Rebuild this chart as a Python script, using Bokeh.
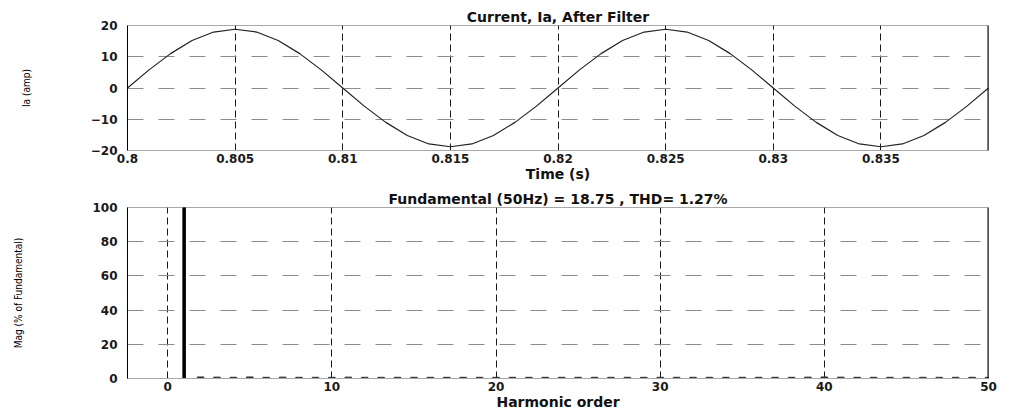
from bokeh.plotting import figure
from bokeh.layouts import column
from bokeh.models import FixedTicker, Span, Range1d
from bokeh.embed import file_html
from bokeh.resources import INLINE

# ---------------- data ----------------
time_s = [0.800, 0.801, 0.802, 0.803, 0.804, 0.805, 0.806, 0.807, 0.808, 0.809,
          0.810, 0.811, 0.812, 0.813, 0.814, 0.815, 0.816, 0.817, 0.818, 0.819,
          0.820, 0.821, 0.822, 0.823, 0.824, 0.825, 0.826, 0.827, 0.828, 0.829,
          0.830, 0.831, 0.832, 0.833, 0.834, 0.835, 0.836, 0.837, 0.838, 0.839,
          0.840]
ia_amp = [0.0, 5.8, 11.0, 15.2, 17.9, 18.8, 17.9, 15.2, 11.0, 5.8,
          0.0, -5.8, -11.0, -15.2, -17.9, -18.8, -17.9, -15.2, -11.0, -5.8,
          0.0, 5.8, 11.0, 15.2, 17.9, 18.8, 17.9, 15.2, 11.0, 5.8,
          0.0, -5.8, -11.0, -15.2, -17.9, -18.8, -17.9, -15.2, -11.0, -5.8,
          0.0]

time_ticks = [0.8, 0.805, 0.81, 0.815, 0.82, 0.825, 0.83, 0.835]
time_tick_labels = ["0.8", "0.805", "0.81", "0.815", "0.82", "0.825", "0.83", "0.835"]

fund_order = [1]
fund_mag = [100.0]
harm_order = [2, 3, 4, 5, 6, 7, 8, 9, 10, 11, 12, 13, 14, 15, 16, 17, 18, 19, 20,
              21, 22, 23, 24, 25, 26, 27, 28, 29, 30, 31, 32, 33, 34, 35, 36, 37,
              38, 39, 40, 41, 42, 43, 44, 45, 46, 47, 48, 49, 50]
harm_mag = [0.9, 0.8, 0.7, 0.9, 0.7, 0.8, 0.7, 0.7, 0.7, 0.8, 0.7, 0.7, 0.7, 0.7,
            0.7, 0.7, 0.7, 0.7, 0.7, 0.7, 0.7, 0.7, 0.7, 0.7, 0.7, 0.7, 0.7, 0.7,
            0.7, 0.7, 0.7, 0.7, 0.7, 0.7, 0.7, 0.7, 0.7, 0.8, 0.9, 0.8, 0.7, 0.7,
            0.7, 0.7, 0.7, 0.7, 0.7, 0.7, 0.7]

top_title = "Current, Ia, After Filter"
bottom_title = "Fundamental (50Hz) = 18.75 , THD= 1.27%"

FONT = "DejaVu Sans"
AX_FONT = "DejaVu Sans Condensed"


def style(p, xlabel, ylabel, ystandoff):
    p.toolbar.logo = None
    p.outline_line_color = "#a8a8a8"
    p.background_fill_color = "white"
    p.border_fill_color = "white"
    p.title.align = "center"
    p.title.text_font = FONT
    p.title.text_font_size = "14px"
    p.title.text_font_style = "bold"
    p.title.text_color = "#111111"
    p.title.standoff = 1
    p.title.offset = 0
    for ax in (p.xaxis[0], p.yaxis[0]):
        ax.major_tick_in = 0
        ax.major_tick_out = 0
        ax.minor_tick_in = 0
        ax.minor_tick_out = 0
        ax.major_label_text_font = FONT
        ax.major_label_text_font_style = "bold"
        ax.major_label_text_font_size = "12px"
        ax.major_label_text_color = "#1a1a1a"
    p.xaxis.axis_line_color = "#a8a8a8"
    p.yaxis.axis_line_color = "black"
    p.xaxis.axis_label = xlabel
    p.xaxis.axis_label_text_font = FONT
    p.xaxis.axis_label_text_font_style = "bold"
    p.xaxis.axis_label_text_font_size = "14px"
    p.xaxis.axis_label_text_color = "#111111"
    p.xaxis.axis_label_standoff = 0
    p.xaxis.major_label_standoff = 3
    p.yaxis.axis_label = ylabel
    p.yaxis.axis_label_text_font = AX_FONT
    p.yaxis.axis_label_text_font_style = "normal"
    p.yaxis.axis_label_text_font_size = "10px"
    p.yaxis.axis_label_text_color = "black"
    p.yaxis.axis_label_standoff = ystandoff
    p.yaxis.major_label_standoff = 10
    p.xgrid.grid_line_color = "black"
    p.xgrid.grid_line_dash = "7 4"
    p.xgrid.grid_line_alpha = 0.9
    p.ygrid.grid_line_color = "#8c8c8c"
    p.ygrid.grid_line_dash = "16 15"


# ---------------- top plot ----------------
p1 = figure(width=1009, height=187, output_backend="svg", toolbar_location=None,
            x_range=Range1d(0.8, 0.84), y_range=Range1d(-20, 20),
            title=top_title,
            min_border_left=127, min_border_right=21, min_border_top=25,
            min_border_bottom=37)
p1.line(time_s, ia_amp, line_color="#222222", line_width=1.2)
style(p1, "Time (s)", "Ia (amp)", 56)
p1.xaxis.ticker = FixedTicker(ticks=time_ticks)
p1.xaxis.major_label_overrides = {t: l for t, l in zip(time_ticks, time_tick_labels)}
p1.yaxis.ticker = FixedTicker(ticks=[-20, -10, 0, 10, 20])
p1.xgrid.ticker = FixedTicker(ticks=time_ticks[1:])
p1.ygrid.ticker = FixedTicker(ticks=[-10, 0, 10])
p1.add_layout(Span(location=0.84, dimension="height", line_color="black", line_width=2))

# ---------------- bottom plot ----------------
p2 = figure(width=1009, height=225, output_backend="svg", toolbar_location=None,
            x_range=Range1d(-2.45, 50), y_range=Range1d(0, 100),
            title=bottom_title,
            min_border_left=127, min_border_right=12, min_border_top=20,
            min_border_bottom=33)
p2.vbar(x=harm_order, top=harm_mag, width=0.4, color="#333333")
p2.vbar(x=fund_order, top=fund_mag, width=0.15, color="black")
style(p2, "Harmonic order", "Mag (% of Fundamental)", 65)
p2.xaxis.ticker = FixedTicker(ticks=[0, 10, 20, 30, 40, 50])
p2.yaxis.ticker = FixedTicker(ticks=[0, 20, 40, 60, 80, 100])
p2.xgrid.ticker = FixedTicker(ticks=[0, 10, 20, 30, 40])
p2.ygrid.ticker = FixedTicker(ticks=[20, 40, 60, 80])
p2.add_layout(Span(location=50, dimension="height", line_color="black", line_width=2))

layout = column(p1, p2, spacing=0)
open("out.html", "w").write(file_html(layout, INLINE))
